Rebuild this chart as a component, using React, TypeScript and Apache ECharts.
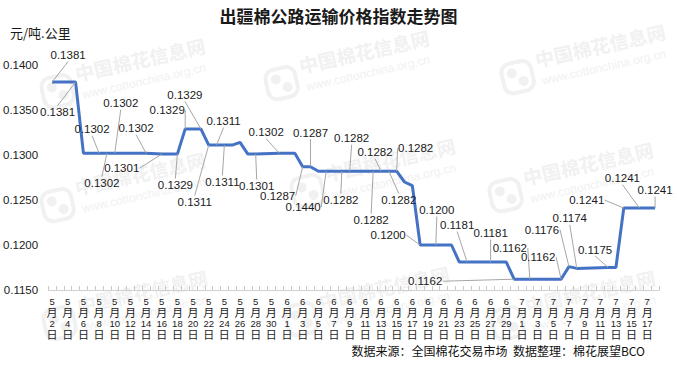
import React, { useEffect, useRef } from "react";
import * as echarts from "echarts";

// ---------- categories: every day from 5月2日 to 7月18日 ----------
const MONTH_RANGES: [number, number, number][] = [
  [5, 2, 31],
  [6, 1, 30],
  [7, 1, 18],
];
const CATEGORIES: string[] = [];
for (const [m, s, e] of MONTH_RANGES) for (let d = s; d <= e; d++) CATEGORIES.push(`${m}月${d}日`);

// ---------- series points ----------
const POINT_DATES = [
  "5月2日", "5月5日", "5月6日", "5月8日", "5月9日", "5月10日", "5月14日", "5月16日", "5月18日",
  "5月19日", "5月21日", "5月22日", "5月23日", "5月24日", "5月25日", "5月26日", "5月27日", "5月28日",
  "5月31日", "6月2日", "6月3日", "6月4日", "6月5日", "6月6日", "6月8日", "6月9日", "6月12日",
  "6月13日", "6月14日", "6月15日", "6月16日", "6月17日", "6月18日", "6月20日", "6月22日", "6月23日",
  "6月24日", "6月27日", "6月29日", "6月30日", "7月2日", "7月6日", "7月7日", "7月8日", "7月12日",
  "7月13日", "7月14日", "7月16日", "7月18日",
];
const POINT_VALUES = [
  0.1381, 0.1381, 0.1302, 0.1302, 0.1302, 0.1302, 0.1302, 0.1301, 0.1301,
  0.1329, 0.1329, 0.1311, 0.1311, 0.1311, 0.1311, 0.1314, 0.1301, 0.1301,
  0.1302, 0.1302, 0.1287, 0.1287, 0.1282, 0.1282, 0.1282, 0.1282, 0.1282,
  0.1282, 0.1282, 0.1282, 0.127, 0.1266, 0.12, 0.12, 0.12, 0.1181,
  0.1181, 0.1181, 0.1181, 0.1162, 0.1162, 0.1162, 0.1176, 0.1174, 0.1175,
  0.1175, 0.1241, 0.1241, 0.1241,
];

// ---------- data labels (as printed in the picture) ----------
const LABEL_DATES = [
  "5月2日", "5月5日", "5月8日", "5月9日", "5月10日", "5月14日", "5月16日", "5月18日", "5月19日",
  "5月21日", "5月22日", "5月23日", "5月24日", "5月28日", "5月31日", "6月3日", "6月4日", "6月6日",
  "6月8日", "6月9日", "6月12日", "6月13日", "6月14日", "6月15日", "6月18日", "6月20日", "6月24日",
  "6月27日", "6月30日", "7月2日", "7月6日", "7月7日", "7月8日", "7月12日", "7月14日", "7月16日",
  "7月18日",
];
const LABEL_TEXTS = [
  "0.1381", "0.1381", "0.1302", "0.1302", "0.1302", "0.1302", "0.1301", "0.1329", "0.1329",
  "0.1329", "0.1311", "0.1311", "0.1311", "0.1301", "0.1302", "0.1287", "0.1287", "0.1440",
  "0.1282", "0.1282", "0.1282", "0.1282", "0.1282", "0.1282", "0.1200", "0.1200", "0.1181",
  "0.1181", "0.1162", "0.1162", "0.1162", "0.1176", "0.1174", "0.1175", "0.1241", "0.1241",
  "0.1241",
];

// ---------- layout (label offsets from their point, px) ----------
const LABEL_OFFSETS: [number, number][] = [
  [16, -27], [-18, 30], [-7, -24], [-5, 30], [6, -50], [-10, -25], [-40, 14], [-2, 31], [-18, -19],
  [-16, -34], [-14, 57], [7, -24], [-2, 37], [1, 32], [-13, -21], [-25, 29], [0, -34], [-23, 36],
  [-1, 29], [2, -33], [-2, 49], [-6, -19], [10, 29], [19, -23], [-32, -10], [1, -35], [-10, -37],
  [0, -29], [-89, 2], [-20, -31], [-23, -22], [-27, -37], [-7, -50], [-13, -18], [-37, -8], [-17, -30],
  [0, -18],
];

const WATERMARKS: [number, number][] = [
  [38, 72], [262, 64], [498, 58], [38, 186], [288, 172], [486, 176], [40, 304], [282, 300], [488, 304],
];

const Y_MIN = 0.115;
const Y_MAX = 0.14;
const Y_STEP = 0.005;

const LBL_FONT = "Liberation Sans";
const CJK_FONT = "Noto Sans CJK SC";

function watermark(x: number, y: number) {
  const c = "#f1f1f1";
  return {
    type: "group",
    x,
    y,
    rotation: 0.22,
    silent: true,
    children: [
      { type: "rect", shape: { x: 0, y: 8, width: 30, height: 30, r: 9 }, style: { fill: "none", stroke: c, lineWidth: 4 } },
      { type: "circle", shape: { cx: 10, cy: 18, r: 5 }, style: { fill: c } },
      { type: "circle", shape: { cx: 20, cy: 28, r: 5 }, style: { fill: c } },
      {
        type: "text",
        x: 36,
        y: 0,
        style: { text: "中国棉花信息网", fontSize: 19, fontWeight: "bold", fill: c, fontFamily: CJK_FONT },
      },
      {
        type: "text",
        x: 38,
        y: 26,
        style: { text: "www.cottonchina.org.cn", fontSize: 12, fill: c, fontFamily: LBL_FONT },
      },
    ],
  };
}

export default function App() {
  const ref = useRef<HTMLDivElement>(null);

  useEffect(() => {
    const chart = echarts.init(ref.current!, undefined, { renderer: "svg" });
    const valueByDate = new Map<string, number>();
    POINT_DATES.forEach((d, i) => valueByDate.set(d, POINT_VALUES[i]));
    const lineData = POINT_DATES.map((d, i) => [d, POINT_VALUES[i]]);
    const labelData = LABEL_DATES.map((d) => [d, valueByDate.get(d) as number]);

    const option: any = {
      animation: false,
      backgroundColor: "#ffffff",
      title: {
        text: "出疆棉公路运输价格指数走势图",
        left: "center",
        top: 2,
        textStyle: { fontFamily: CJK_FONT, fontWeight: "bold", fontSize: 17, color: "#1a1a1a" },
      },
      graphic: [
        ...WATERMARKS.map(([x, y]) => watermark(x, y)),
        {
          type: "text",
          left: 10,
          top: 26,
          style: { text: "元/吨.公里", fontSize: 13, fill: "#1a1a1a", fontFamily: CJK_FONT },
        },
        {
          type: "text",
          right: 32,
          top: 344,
          style: {
            text: "数据来源：全国棉花交易市场  数据整理：棉花展望BCO",
            fontSize: 12,
            fill: "#111",
            fontFamily: CJK_FONT,
          },
        },
      ],
      grid: { left: 48, right: 18, top: 65, bottom: 78 },
      xAxis: {
        type: "category",
        data: CATEGORIES,
        boundaryGap: true,
        axisLine: { lineStyle: { color: "#d0d0d0" } },
        axisTick: { show: true, inside: true, length: 4, interval: 0, lineStyle: { color: "#c8c8c8" } },
        axisLabel: {
          interval: 1,
          margin: 6,
          formatter: (v: string) => {
            const m = v.match(/^(\d+)月(\d+)日$/);
            if (!m) return v;
            return `{d|${m[1]}}\n{c|月}\n{d|${m[2]}}\n{c|日}`;
          },
          rich: {
            d: { fontSize: 9.5, lineHeight: 10, fontFamily: LBL_FONT, color: "#1a1a1a", align: "center" },
            c: { fontSize: 11, lineHeight: 12, fontFamily: CJK_FONT, color: "#1a1a1a", align: "center" },
          },
        },
      },
      yAxis: {
        type: "value",
        min: Y_MIN,
        max: Y_MAX,
        interval: Y_STEP,
        axisLine: { show: false },
        axisTick: { show: false },
        splitLine: { show: false },
        axisLabel: {
          margin: 10,
          fontSize: 11.5,
          fontFamily: LBL_FONT,
          color: "#1a1a1a",
          formatter: (v: number) => v.toFixed(4),
        },
      },
      series: [
        {
          type: "line",
          data: lineData,
          symbol: "none",
          lineStyle: { color: "#4472c4", width: 3 },
          z: 2,
        },
        {
          type: "custom",
          data: labelData,
          encode: { x: 0, y: 1 },
          z: 3,
          silent: true,
          renderItem: (params: any, api: any) => {
            const idx = params.dataIndex;
            const p = api.coord([api.value(0), api.value(1)]);
            const off = LABEL_OFFSETS[idx] || [0, -15];
            const cx = p[0] + off[0];
            const cy = p[1] + off[1];
            const w = 36;
            const h = 13;
            const anchors = [
              [cx, cy - h / 2],
              [cx, cy + h / 2],
              [cx - w / 2, cy],
              [cx + w / 2, cy],
            ];
            let best = anchors[0];
            let bestD = Infinity;
            for (const a of anchors) {
              const d = Math.hypot(a[0] - p[0], a[1] - p[1]);
              if (d < bestD) {
                bestD = d;
                best = a;
              }
            }
            const children: any[] = [];
            if (bestD > 7) {
              children.push({
                type: "line",
                shape: { x1: p[0], y1: p[1], x2: best[0], y2: best[1] },
                style: { stroke: "#a6a6a6", lineWidth: 1 },
              });
            }
            children.push({
              type: "text",
              x: cx,
              y: cy,
              style: {
                text: LABEL_TEXTS[idx],
                fill: "#1a1a1a",
                fontSize: 11.5,
                fontFamily: LBL_FONT,
                align: "center",
                verticalAlign: "middle",
              },
            });
            return { type: "group", children };
          },
        },
      ],
    };

    chart.setOption(option);
    return () => chart.dispose();
  }, []);

  return <div ref={ref} style={{ position: "fixed", left: 0, top: 0, width: 677, height: 368 }} />;
}
